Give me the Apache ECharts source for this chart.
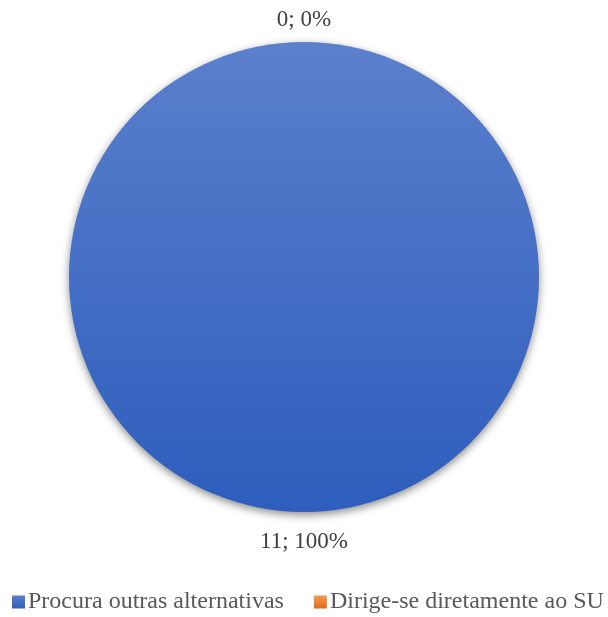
<!DOCTYPE html>
<html><head><meta charset="utf-8">
<script src="https://cdn.jsdelivr.net/npm/echarts@6/dist/echarts.min.js"></script>
<style>html,body{margin:0;padding:0;background:#fff}#c{width:608px;height:617px}</style>
</head><body><div id="c"></div>
<script>
const categories = ['Procura outras alternativas', 'Dirige-se diretamente ao SU'];
const values = [11, 0];
const colorsTop = ['#5b80cc', '#f59a50'];
const colorsBottom = ['#2d5dbd', '#e06c1c'];

const chart = echarts.init(document.getElementById('c'));
const FONT = "'Liberation Serif', 'Times New Roman', serif";
chart.setOption({
  animation: false,
  textStyle: { fontFamily: FONT },
  legend: {
    top: 590,
    left: 12,
    width: 620,
    padding: 0,
    itemWidth: 13, itemHeight: 13, itemGap: 30,
    icon: 'rect',
    textStyle: { fontFamily: FONT, fontSize: 24, color: '#595959', padding: [0, 0, 0, -2] },
    data: categories
  },
  series: [{
    type: 'pie',
    center: [304, 277],
    radius: 235,
    startAngle: 90,
    clockwise: true,
    avoidLabelOverlap: false,
    minShowLabelAngle: -1,
    label: {
      show: true, position: 'outside',
      formatter: p => p.value + '; ' + Math.round(p.percent) + '%',
      fontFamily: FONT, fontSize: 23, color: '#404040',
      alignTo: 'none'
    },
    labelLine: { show: false, length: 22, length2: 0 },
    labelLayout: p => {
      const cx = p.rect.x + p.rect.width / 2;
      const cy = p.labelRect.y + p.labelRect.height / 2;
      return { x: cx, y: p.dataIndex === 0 ? cy + 8 : cy, align: 'center', verticalAlign: 'middle' };
    },
    itemStyle: { shadowBlur: 8, shadowOffsetY: 3, shadowColor: 'rgba(0,0,0,0.45)' },
    emphasis: { disabled: true },
    data: categories.map((c, i) => ({
      name: c, value: values[i],
      itemStyle: { color: new echarts.graphic.LinearGradient(0, 0, 0, 1, [
        { offset: 0, color: colorsTop[i] }, { offset: 1, color: colorsBottom[i] }]) }
    }))
  }]
});
</script></body></html>
